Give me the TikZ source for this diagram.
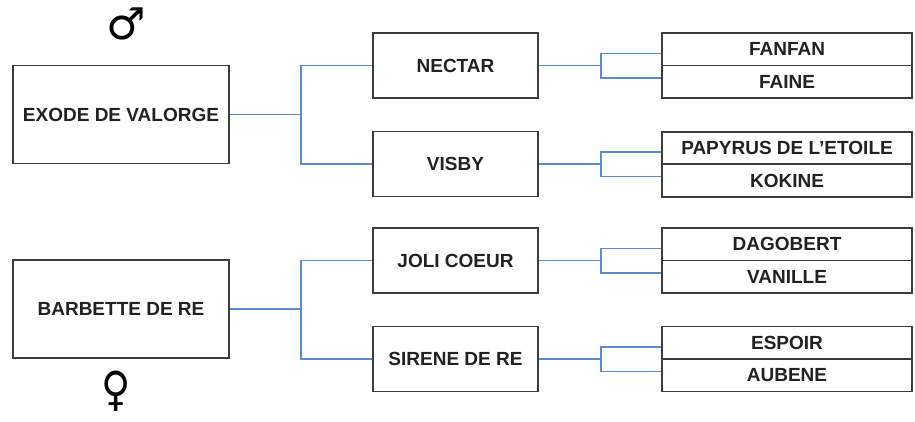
\documentclass[tikz,border=0pt]{standalone}
\usepackage{fontspec}
\setmainfont{Liberation Sans}
\newfontfamily\symfont{DejaVu Sans}
\usetikzlibrary{calc}
\definecolor{boxline}{HTML}{3C3C3C}
\definecolor{connblue}{HTML}{5B8BD2}
\definecolor{txt}{HTML}{222222}
\begin{document}
\begin{tikzpicture}[x=1pt,y=-1pt,
  namebox/.style={draw=boxline,line width=1.6pt,fill=white,inner sep=0pt,
    font=\bfseries\fontsize{19}{22}\selectfont,text=txt,anchor=center},
  bigbox/.style={namebox,minimum width=216pt,minimum height=98pt},
  midbox/.style={namebox,minimum width=165pt,minimum height=65pt},
  smallbox/.style={namebox,minimum width=250pt,minimum height=32.5pt},
  conn/.style={draw=connblue,line width=1.5pt},
  sym/.style={inner sep=0pt,text=black}]
\useasboundingbox (0,0) rectangle (915,421);
% sire side
\node[bigbox] (exode) at (121,114.5) {EXODE DE VALORGE};
\node[midbox] (nectar) at (455.5,65.5) {NECTAR};
\node[midbox] (visby) at (455.5,164) {VISBY};
\node[smallbox] (fanfan) at (787,49.25) {FANFAN};
\node[smallbox] (faine) at (787,81.75) {FAINE};
\node[smallbox] (papyrus) at (787,148) {PAPYRUS DE L'ETOILE};
\node[smallbox] (kokine) at (787,180.5) {KOKINE};
% dam side
\node[bigbox] (barbette) at (121,309) {BARBETTE DE RE};
\node[midbox] (joli) at (455.5,260.5) {JOLI COEUR};
\node[midbox] (sirene) at (455.5,359) {SIRENE DE RE};
\node[smallbox] (dagobert) at (787,244.25) {DAGOBERT};
\node[smallbox] (vanille) at (787,276.75) {VANILLE};
\node[smallbox] (espoir) at (787,342.75) {ESPOIR};
\node[smallbox] (aubene) at (787,375.25) {AUBENE};
% symbols
\node[sym,font=\symfont\fontsize{44}{44}\selectfont] (male) at (126,24) {♂};
\node[sym,font=\symfont\fontsize{40}{40}\selectfont] (female) at (116,391) {\scalebox{1}[1.18]{♀}};
% connectors level 1
\path (exode.east) ++(71,0) coordinate (j0);
\draw[conn] (exode.east) -- (j0);
\draw[conn] (nectar.west) -| (j0) |- (visby.west);
\path (barbette.east) ++(71,0) coordinate (k0);
\draw[conn] (barbette.east) -- (k0);
\draw[conn] (joli.west) -| (k0) |- (sirene.west);
% connectors level 2
\foreach \m/\a/\b in {nectar/fanfan/faine, visby/papyrus/kokine, joli/dagobert/vanille, sirene/espoir/aubene}{
  \path (\m.east) ++(62,0) coordinate (j\m);
  \draw[conn] (\m.east) -- (j\m);
  \draw[conn] ([yshift=-4pt]\a.west) -| (j\m) |- ([yshift=4pt]\b.west);
}
\end{tikzpicture}
\end{document}
